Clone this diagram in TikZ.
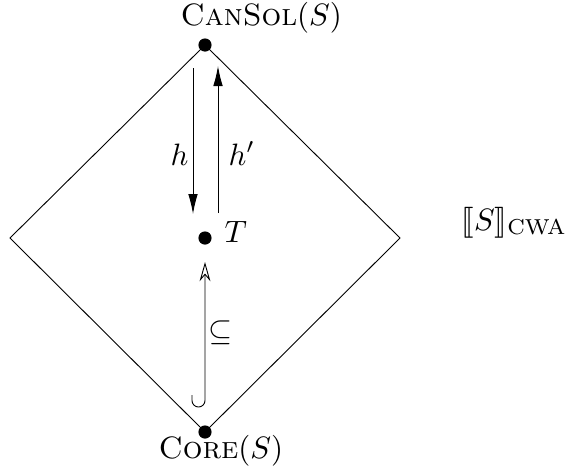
\documentclass[tikz,border=0pt]{standalone}
\usepackage{stmaryrd}
\usetikzlibrary{arrows.meta}
\begin{document}
\begin{tikzpicture}[x=0.44pt,y=-0.44pt,
  dot/.style={circle,fill=black,inner sep=0pt,minimum size=5.8pt},
  lbl/.style={inner sep=0pt,scale=1.36},
  edge/.style={line width=0.4pt},
  harrow/.style={line width=0.4pt,-{Latex[length=8.8pt,width=4.2pt]}},
  incl/.style={line width=0.4pt,-{Stealth[open,length=8.5pt,width=4.8pt,inset=2.8pt]}}]
\useasboundingbox (0,0) rectangle (579,472);
\node[dot] (top) at (205,45) {};
\node[dot] (mid) at (205,238) {};
\node[dot] (bot) at (205,432) {};
\coordinate (L) at (10,238);
\coordinate (R) at (400,238);
\draw[edge] (top.center) -- (L) -- (bot.center) -- (R) -- cycle;
\node[lbl,anchor=base west] (cansol) at (180,25) {\textsc{CanSol}$(S)$};
\node[lbl,anchor=base west] (core) at (158,458) {\textsc{Core}$(S)$};
\node[lbl,anchor=base west] (T) at (224,242) {$T$};
\node[lbl,anchor=base west] (cwa) at (461,230) {$\llbracket S\rrbracket_{\mathrm{CWA}}$};
\node[lbl,anchor=base west] (hl) at (170,165) {$h$};
\node[lbl,anchor=base west] (hpl) at (228,165) {$h'$};
\node[lbl] (il) at (221,333) {$\subseteq$};
\coordinate (hs) at (193,68);
\coordinate (he) at (193,214);
\coordinate (hps) at (218,213);
\coordinate (hpe) at (218,66);
\draw[harrow] (hs) -- (he);
\draw[harrow] (hps) -- (hpe);
\coordinate (is) at (192,395);
\coordinate (ie) at (205,262);
\draw[incl] (is) -- (192,400.5) arc[start angle=180,end angle=0,radius=6.5] -- (ie);
\end{tikzpicture}
\end{document}
